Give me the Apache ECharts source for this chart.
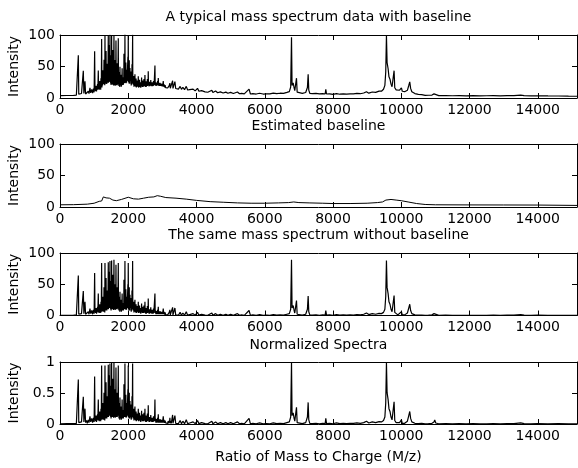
<!DOCTYPE html>
<html>
<head>
<meta charset="utf-8">
<script src="https://cdn.jsdelivr.net/npm/echarts@6/dist/echarts.min.js"></script>
<style>
html,body{margin:0;padding:0;background:#fff;}
#chart{width:578px;height:468px;}
</style>
</head>
<body>
<div id="chart"></div>
<script>
// ---- Data ----
// Spectrum after baseline removal (third panel): [m/z, intensity]
var spectrumLow = [
  [0,0.3],[200,0.4],[400,0.5],[480,0.8],[500,2],[520,1],[537,64],[550,2],[570,4],[600,1.5],
  [630,3],[660,1],[683,39],[700,3],[732,22],[750,2],[780,5],[800,1],[830,6],[850,2],
  [878,11],[900,3],[930,8],[955,2],[980,9],[1000,3]
];
var spectrumDense = [
  [1015,68],[1025,5],[1035,10],[1045,4],[1060,12],[1070,3],[1080,11],[1090,5],[1100,14],[1110,6],
  [1122,35],[1132,5],[1142,12],[1152,4],[1165,18],[1175,6],[1185,14],[1193,4],[1200,22],[1210,8],
  [1220,84],[1228,6],[1238,16],[1246,7],[1255,30],[1262,8],[1270,14],[1280,6],[1290,45],[1298,9],
  [1305,16],[1312,5],[1318,84],[1325,10],[1335,18],[1342,8],[1350,60],[1357,12],[1365,16],[1372,8],
  [1380,40],[1388,12],[1395,18],[1403,10],[1415,85],[1420,10],[1430,20],[1435,12],[1440,70],[1446,15],
  [1452,24],[1458,12],[1464,87],[1470,12],[1480,20],[1485,10],[1490,55],[1496,8],[1505,18],[1508,10],
  [1513,88],[1519,14],[1530,24],[1537,10],[1545,65],[1552,10],[1560,18],[1570,9],[1581,89],[1588,12],
  [1596,20],[1603,10],[1610,50],[1617,9],[1625,18],[1632,10],[1640,81],[1647,16],[1655,20],[1662,10],
  [1670,45],[1677,10],[1685,18],[1695,12],[1708,84],[1714,13],[1722,16],[1728,8],[1735,30],[1740,8],
  [1747,14],[1752,6],[1757,38],[1763,10],[1772,15],[1780,8],[1790,25],[1797,6],[1805,12],[1812,8],
  [1820,35],[1828,12],[1836,15],[1843,8],[1850,20],[1856,8],[1864,18],[1868,10],[1874,57],[1880,10],
  [1888,16],[1895,10],[1903,87],[1909,14],[1918,18],[1924,10],[1930,42],[1937,9],[1945,15],[1952,10],
  [1960,30],[1967,12],[1975,14],[1982,10],[1990,50],[1995,12],[2000,84],[2007,10],[2015,16],[2022,8],
  [2030,45],[2035,8],[2040,14],[2045,8],[2050,33],[2057,12],[2065,15],[2072,10],[2080,28],[2087,6],
  [2095,14],[2102,8],[2110,40],[2118,10],[2128,87],[2134,10],[2142,16],[2150,8],[2160,22],[2167,5],
  [2175,13],[2185,6],[2196,25],[2203,6],[2210,12],[2220,5],[2230,18],[2237,4],[2245,11],[2252,6],
  [2260,15],[2267,6],[2275,10],[2284,5],[2294,22],[2302,4],[2310,11],[2320,5],[2330,16],[2337,5],
  [2345,10],[2352,4],[2360,12],[2367,3],[2375,11],[2383,5],[2391,19],[2398,5],[2405,10],[2415,4],
  [2425,14],[2432,4],[2440,10],[2450,4],[2460,16],[2467,5],[2475,10],[2482,5],[2489,22],[2497,4],
  [2505,9],[2512,3],[2520,12],[2530,3],[2540,9],[2550,4],[2560,15],[2567,4],[2575,9],[2580,5],
  [2586,27],[2593,5],[2600,9],[2610,3],[2620,10],[2630,3],[2640,8],[2650,4],[2660,13],[2670,4],
  [2680,8],[2690,3],[2700,9],[2710,3],[2720,7],[2730,3],[2740,11],[2750,4],[2760,7],[2770,4],
  [2782,35],[2790,4],[2800,8],[2810,2],[2820,7],[2830,2],[2840,6],[2850,2],[2860,9],[2870,3],
  [2880,14],[2890,2],[2900,6],[2915,2],[2930,7],[2945,2],[2960,6],[2975,2],[2990,6],[3005,2],
  [3026,11],[3038,2],[3050,6],[3065,1.5],[3080,5],[3095,1.5],[3110,4],[3125,1],[3140,4],[3155,1],
  [3170,4],[3185,1],[3200,5],[3210,2],[3220,9],[3232,1],[3245,4],[3260,1],[3280,3],[3290,1],
  [3300,13],[3310,1],[3320,3],[3340,1],[3367,12],[3390,1]
];
var spectrumHigh = [
  [3430,2],[3470,0.5],[3520,5],[3560,0.5],[3600,4],[3650,0.5],[3700,6],[3740,0.5],[3800,1.5],[3850,0.5],
  [3900,3],[3960,0.5],[4030,5],[4070,0.5],[4150,2],[4200,4],[4250,0.5],[4330,0.3],[4450,4],[4480,0.3],
  [4560,3],[4620,0.3],[4700,2],[4780,0.3],[4860,2],[4920,0.3],[5000,2],[5080,0.3],[5200,3],[5260,0.3],
  [5320,1],[5400,0.3],[5540,8],[5580,0.3],[5650,1],[5750,0.3],[5850,1.5],[5950,0.3],[6000,2],[6050,0.5],
  [6150,0.3],[6250,1.5],[6350,0.5],[6400,2],[6450,1],[6550,0.5],[6650,2],[6720,3],[6760,10],[6784,89],
  [6800,12],[6833,16],[6860,8],[6880,4],[6900,3],[6930,24],[6950,2],[7000,1],[7100,0.5],[7200,2],
  [7250,10],[7272,31],[7290,6],[7320,1],[7400,0.5],[7500,1],[7600,0.3],[7700,1],[7770,0.5],[7789,8],
  [7810,0.5],[7900,1],[8000,0.3],[8100,1.5],[8200,0.5],[8300,1],[8400,0.5],[8500,1],[8600,0.8],[8700,1.5],
  [8800,1],[8900,2],[8980,4],[9050,1.5],[9150,3],[9250,2],[9350,3.5],[9420,3],[9480,5],[9520,10],
  [9545,30],[9566,88],[9585,45],[9615,35],[9640,22],[9670,18],[9700,10],[9730,6],[9760,5],[9790,32],
  [9810,5],[9850,2],[9900,1],[9950,2],[10005,6],[10030,1],[10100,1],[10180,4],[10220,12],[10249,18],
  [10275,8],[10310,3],[10400,1],[10500,0.5],[10600,0.8],[10700,0.3],[10800,0.5],[10900,1],[10960,3],[10981,6],
  [11010,1.5],[11100,0.3],[11300,0.5],[11500,0.2],[11700,0.4],[11900,0.2],[12100,0.4],[12300,0.2],[12500,0.3],[12700,0.5],
  [12900,0.3],[13100,0.5],[13300,0.5],[13500,1.5],[13600,0.5],[13800,0.3],[14000,0.5],[14300,0.3],[14600,0.4],[14900,0.3],
  [15150,0.3]
];
// Estimated baseline (second panel)
var baseX = [0, 400, 800, 1000, 1150, 1220, 1270, 1350, 1450, 1550, 1650, 1800, 2000, 2150, 2300, 2450, 2600, 2750, 2850, 2950,
  3100, 3400, 3700, 4000, 4400, 4800, 5200, 5600, 6000, 6400, 6700, 6850, 7000, 7300, 7700, 8000, 8500, 9000, 9300, 9450,
  9550, 9700, 9850, 10000, 10200, 10450, 10700, 11000, 12000, 13000, 14000, 15150];
var baseY = [3.5, 3.7, 4.5, 6, 9, 9.5, 16, 14.5, 14, 11, 10, 12, 15.5, 13, 12.5, 14, 15.5, 16, 18, 17,
  15, 14, 12.5, 10.5, 8.5, 7.5, 6.5, 6, 6, 6.5, 7, 8, 7, 6.5, 6, 5.5, 5.5, 6, 7, 8,
  11, 12, 11, 10, 8, 5.5, 4, 3.5, 3.3, 3.2, 3.1, 2.5];
var xTicks = [0, 2000, 4000, 6000, 8000, 10000, 12000, 14000];
var titles = ['A typical mass spectrum data with baseline', 'Estimated baseline',
  'The same mass spectrum without baseline', 'Normalized Spectra'];

// ---- Derived series ----
var spectrum = spectrumLow.concat(spectrumDense, spectrumHigh);
function baselineAt(x) {
  for (var i = 0; i < baseX.length - 1; i++) {
    if (x >= baseX[i] && x <= baseX[i + 1]) {
      var t = (x - baseX[i]) / (baseX[i + 1] - baseX[i]);
      return baseY[i] + t * (baseY[i + 1] - baseY[i]);
    }
  }
  return baseY[baseY.length - 1];
}
var maxC = Math.max.apply(null, spectrum.map(function (p) { return p[1]; }));
var rawData = spectrum.map(function (p) { return [p[0], p[1] + baselineAt(p[0])]; });
var baseData = baseX.map(function (x, i) { return [x, baseY[i]]; });
var corrData = spectrum.map(function (p) { return [p[0], p[1]]; });
var normData = spectrum.map(function (p) { return [p[0], p[1] / maxC]; });

// ---- Layout ----
var FONT = 'DejaVu Sans';
var XMAX = 15150;
var grids = [
  {left: 60, right: 1, top: 35, height: 63},
  {left: 60, right: 1, top: 144, height: 63},
  {left: 60, right: 1, top: 253, height: 62.5},
  {left: 60, right: 1, top: 362, height: 62}
];
var yMax = [100, 100, 100, 1];
var yInt = [50, 50, 50, 0.5];
var series = [rawData, baseData, corrData, normData];

var xAxes = [], yAxes = [], ser = [];
grids.forEach(function (g, i) {
  var lineStyle = {color: '#000', width: 1};
  xAxes.push({
    type: 'value', gridIndex: i, position: 'bottom', min: 0, max: XMAX, interval: 2000,
    axisLine: {show: true, onZero: false, lineStyle: lineStyle},
    axisTick: {show: true, inside: true, length: 5, lineStyle: lineStyle},
    axisLabel: {show: true, margin: 5, color: '#000', fontFamily: FONT, fontSize: 14,
      showMaxLabel: false,
      formatter: function (v) { return xTicks.indexOf(v) >= 0 ? String(v) : ''; }},
    splitLine: {show: false}
  });
  xAxes.push({
    type: 'value', gridIndex: i, position: 'top', min: 0, max: XMAX, interval: 2000,
    axisLine: {show: true, onZero: false, lineStyle: lineStyle},
    axisTick: {show: true, inside: true, length: 5, lineStyle: lineStyle},
    axisLabel: {show: false}, splitLine: {show: false}
  });
  yAxes.push({
    type: 'value', gridIndex: i, position: 'left', min: 0, max: yMax[i], interval: yInt[i],
    axisLine: {show: true, onZero: false, lineStyle: lineStyle},
    axisTick: {show: true, inside: true, length: 5, lineStyle: lineStyle},
    axisLabel: {show: true, margin: 5, color: '#000', fontFamily: FONT, fontSize: 14},
    splitLine: {show: false}
  });
  yAxes.push({
    type: 'value', gridIndex: i, position: 'right', min: 0, max: yMax[i], interval: yInt[i],
    axisLine: {show: true, onZero: false, lineStyle: lineStyle},
    axisTick: {show: true, inside: true, length: 5, lineStyle: lineStyle},
    axisLabel: {show: false}, splitLine: {show: false}
  });
  ser.push({
    type: 'line', xAxisIndex: 2 * i, yAxisIndex: 2 * i, data: series[i],
    showSymbol: false, symbol: 'none', clip: true, silent: true,
    lineStyle: {color: '#000', width: i === 1 ? 1 : 1.2}
  });
});

var graphics = [];
var titleY = [17.5, 126, 235.5, 345];
titles.forEach(function (t, i) {
  graphics.push({type: 'text', x: 318.5, y: titleY[i],
    style: {text: t, fill: '#000', font: '14px "' + FONT + '"', textAlign: 'center', textVerticalAlign: 'middle'}});
  var g = grids[i];
  graphics.push({type: 'text', x: 14, y: g.top + g.height / 2, rotation: Math.PI / 2,
    style: {text: 'Intensity', fill: '#000', font: '14px "' + FONT + '"', textAlign: 'center', textVerticalAlign: 'middle'}});
});
graphics.push({type: 'text', x: 318.5, y: 457,
  style: {text: 'Ratio of Mass to Charge (M/z)', fill: '#000', font: '14px "' + FONT + '"', textAlign: 'center', textVerticalAlign: 'middle'}});

var chart = echarts.init(document.getElementById('chart'), null, {renderer: 'canvas'});
chart.setOption({
  animation: false,
  backgroundColor: '#fff',
  grid: grids,
  xAxis: xAxes,
  yAxis: yAxes,
  series: ser,
  graphic: graphics
});
</script>
</body>
</html>
